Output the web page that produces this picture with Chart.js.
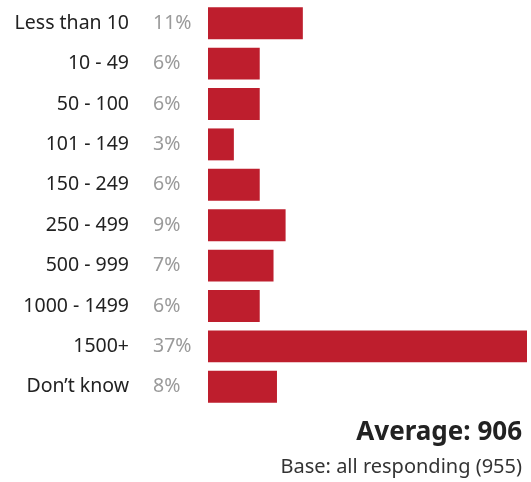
<!DOCTYPE html>
<html><head><meta charset="utf-8">
<script src="https://cdn.jsdelivr.net/npm/chart.js@4/dist/chart.umd.min.js"></script>
<style>html,body{margin:0;padding:0;background:#fff}#wrap{width:531px;height:482px;position:relative}</style>
</head><body><div id="wrap"><canvas id="c" width="531" height="482"></canvas></div>
<script>
const categories = ["Less than 10","10 - 49","50 - 100","101 - 149","150 - 249","250 - 499","500 - 999","1000 - 1499","1500+","Don\u2019t know"];
const values = [11,6,6,3,6,9,7.6,6,37,8];
const valueLabels = ["11%","6%","6%","3%","6%","9%","7%","6%","37%","8%"];
const averageText = "Average: 906";
const baseText = "Base: all responding (955)";
const FONT = "'Noto Sans', sans-serif";

const textPlugin = {
  id: 'texts',
  afterDraw(chart) {
    const ctx = chart.ctx, y = chart.scales.y;
    ctx.save();
    ctx.textBaseline = 'middle';
    categories.forEach((c, i) => {
      const py = y.getPixelForValue(i);
      ctx.font = "19.5px " + FONT;
      ctx.fillStyle = '#222';
      ctx.textAlign = 'right';
      ctx.fillText(c, 129, py);
      ctx.fillStyle = '#9a9a9a';
      ctx.textAlign = 'left';
      ctx.fillText(valueLabels[i], 153, py);
    });
    ctx.textAlign = 'right';
    ctx.fillStyle = '#222';
    ctx.font = "bold 26px " + FONT;
    ctx.fillText(averageText, 522, 433);
    ctx.font = "20px " + FONT;
    ctx.fillStyle = '#333';
    ctx.fillText(baseText, 522, 467);
    ctx.restore();
  }
};

new Chart(document.getElementById('c'), {
  type: 'bar',
  data: { labels: categories, datasets: [{ data: values, backgroundColor: '#be1e2d', borderWidth: 0, categoryPercentage: 1, barPercentage: 0.79 }] },
  options: {
    indexAxis: 'y', responsive: false, animation: false,
    layout: { padding: { left: 208, right: 4, top: 3, bottom: 75 } },
    plugins: { legend: { display: false }, tooltip: { enabled: false } },
    scales: {
      x: { display: false, min: 0, max: 37 },
      y: { display: false }
    }
  },
  plugins: [textPlugin]
});
</script></body></html>
